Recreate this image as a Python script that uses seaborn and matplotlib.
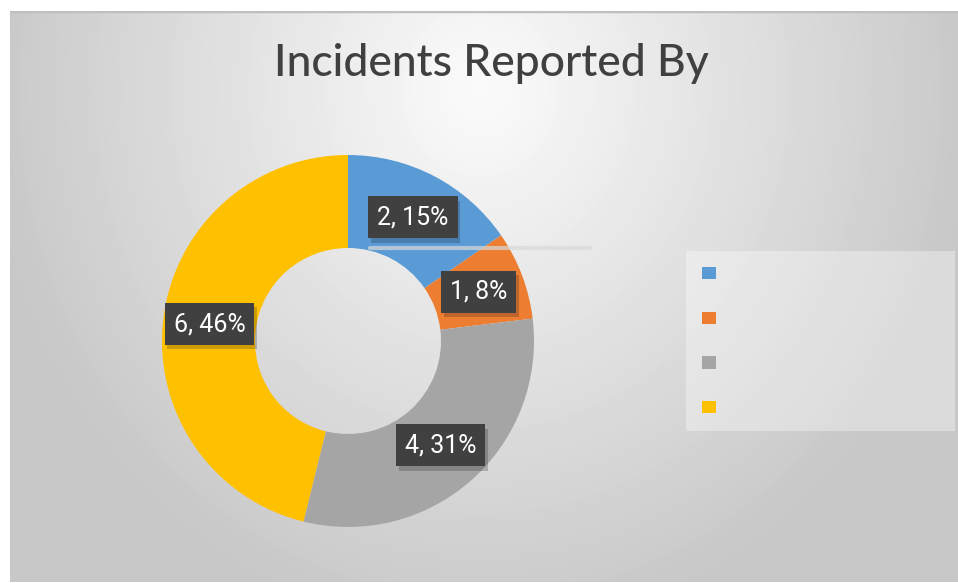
import matplotlib
matplotlib.use("Agg")
import matplotlib.pyplot as plt
import matplotlib.patheffects as pe
from matplotlib import font_manager
from matplotlib.patches import Patch
from matplotlib.lines import Line2D
import numpy as np
import seaborn as sns

# data
values = [2, 1, 4, 6]
legend_labels = ["", "", "", ""]
slice_colors = ["#5B9BD5", "#ED7D31", "#A5A5A5", "#FFC000"]
title = "Incidents Reported By"

sns.set_theme(style="white")
palette = sns.color_palette(slice_colors)

installed = {f.name for f in font_manager.fontManager.ttflist}
title_font = "Lato" if "Lato" in installed else "DejaVu Sans"
label_font = "Roboto" if "Roboto" in installed else "DejaVu Sans"

W, H = 958, 583
fig = plt.figure(figsize=(W / 100, H / 100), dpi=100)
fig.patch.set_facecolor("white")


def px(x0, y0, x1, y1):
    """pixel box (top-left origin) -> figure fraction rect"""
    return [x0 / W, 1 - y1 / H, (x1 - x0) / W, (y1 - y0) / H]


# chart area background with radial gradient
bg = fig.add_axes(px(10, 11, 958, 582))
gx, gy = np.meshgrid(np.arange(10, 958), np.arange(11, 582))
d = np.hypot((gx - 480) * 1.1, (gy - 90) * 1.0)
shade = 0.985 - 0.2 * np.clip(d / 540, 0, 1)
bg.imshow(shade, cmap="gray", vmin=0, vmax=1, aspect="auto",
          extent=(0, 1, 0, 1), interpolation="bilinear")
bg.axhline(1, color="#bfbfbf", lw=2.5)
bg.set_axis_off()

# faint stray line seen in the reference
fig.add_artist(Line2D([370 / W, 590 / W], [1 - 248 / H] * 2,
                      color="#d9d9d9", lw=3, alpha=0.7))

# donut
ax = fig.add_axes(px(162, 155, 534, 527))
total = sum(values)
wedges, _, autotexts = ax.pie(
    values, colors=palette, startangle=90, counterclock=False,
    wedgeprops=dict(width=0.5, linewidth=0),
    autopct=lambda p: f"{round(p * total / 100)}, {p:.0f}%",
    pctdistance=0.75,
    textprops=dict(color="white", fontsize=18, family=label_font),
)
ax.set_xlim(-1, 1)
ax.set_ylim(-1, 1)
ax.set_axis_off()

for t in autotexts:
    t.set_bbox(dict(boxstyle="square,pad=0.36", fc="#404040", ec="none"))
    t.get_bbox_patch().set_path_effects(
        [pe.SimplePatchShadow(offset=(2, -3), alpha=0.22), pe.Normal()])

# title, scaled to the reference width
ttl = fig.text(491 / W, 1 - 63 / H, title, ha="center", va="center",
               fontsize=36, color="#404040", family=title_font,
               fontweight="medium")
fig.canvas.draw()
w = ttl.get_window_extent().width
ttl.set_fontsize(36 * 436 / w)

# legend (labels blank in the reference)
handles = [Patch(facecolor=c, edgecolor="none") for c in palette]
leg = fig.legend(handles, legend_labels, loc="upper left",
                 bbox_to_anchor=(686 / W, 1 - 431 / H, (955 - 686) / W, (431 - 251) / H),
                 mode="expand", borderaxespad=0, fontsize=10,
                 handlelength=1.0, handleheight=1.0, labelspacing=2.2,
                 borderpad=1.15, fancybox=False, frameon=True)
leg.get_frame().set_facecolor("white")
leg.get_frame().set_alpha(0.35)
leg.get_frame().set_edgecolor("none")

fig.savefig("out.png", dpi=100)
